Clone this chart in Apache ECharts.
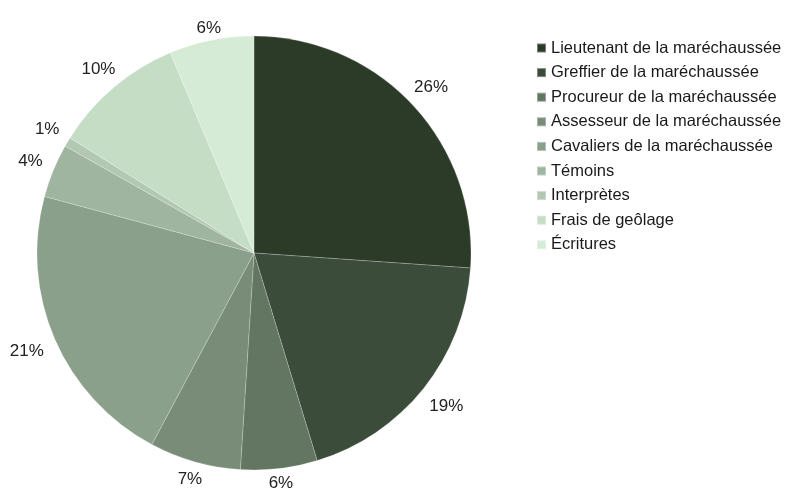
<!DOCTYPE html>
<html><head><meta charset="utf-8">
<script src="https://cdn.jsdelivr.net/npm/echarts@6/dist/echarts.min.js"></script>
<style>html,body{margin:0;padding:0;background:#fff}#c{width:785px;height:490px}</style>
</head><body><div id="c"></div>
<script>
const categories = ["Lieutenant de la maréchaussée","Greffier de la maréchaussée","Procureur de la maréchaussée","Assesseur de la maréchaussée","Cavaliers de la maréchaussée","Témoins","Interprètes","Frais de geôlage","Écritures"];
const values = [26.1, 19.2, 5.7, 6.8, 21.4, 4.0, 0.7, 9.8, 6.3];
const colors = ["#2b3b28","#3b4d3a","#627662","#788c78","#8ba08b","#a0b5a0","#b3c8b3","#c5dcc5","#d5ebd5"];
const CENTER = [254, 253];
const chart = echarts.init(document.getElementById('c'));
chart.setOption({
  animation:false,
  color: colors,
  legend:{
    orient:'vertical', left:531, top:34.5,
    itemWidth:9, itemHeight:9, itemGap:7.6,
    icon:'rect',
    textStyle:{fontFamily:'Liberation Sans, Arial', fontSize:16.5, color:'#1a1a1a', lineHeight:17},
    data: categories
  },
  series:[{
    type:'pie',
    center:CENTER, radius:[0,217],
    startAngle:90, clockwise:true,
    avoidLabelOverlap:false,
    percentPrecision:0,
    itemStyle:{borderColor:'rgba(255,255,255,0.35)', borderWidth:0.6},
    label:{show:true, position:'outside', formatter:'{d}%', fontFamily:'Liberation Sans, Arial', fontSize:17, color:'#222', lineHeight:17},
    labelLine:{show:false, length:7, length2:0},
    labelLayout:function(p){
      const r = p.labelRect;
      const ax = p.align === 'right' ? r.x + r.width + 5 : (p.align === 'center' ? r.x + r.width/2 : r.x - 5);
      const ay = r.y + r.height/2;
      let dx = ax - CENTER[0], dy = ay - CENTER[1];
      const d = Math.sqrt(dx*dx+dy*dy) || 1;
      dx /= d; dy /= d;
      const k = Math.abs(dx)*(r.width/2 + 6) + Math.abs(dy)*(dy < 0 ? 2 : 6);
      return {x: ax + dx*k, y: ay + dy*k, align:'center', verticalAlign:'middle'};
    },
    emphasis:{disabled:true},
    data: categories.map((n,i)=>({name:n, value:values[i]}))
  }]
});
</script></body></html>
